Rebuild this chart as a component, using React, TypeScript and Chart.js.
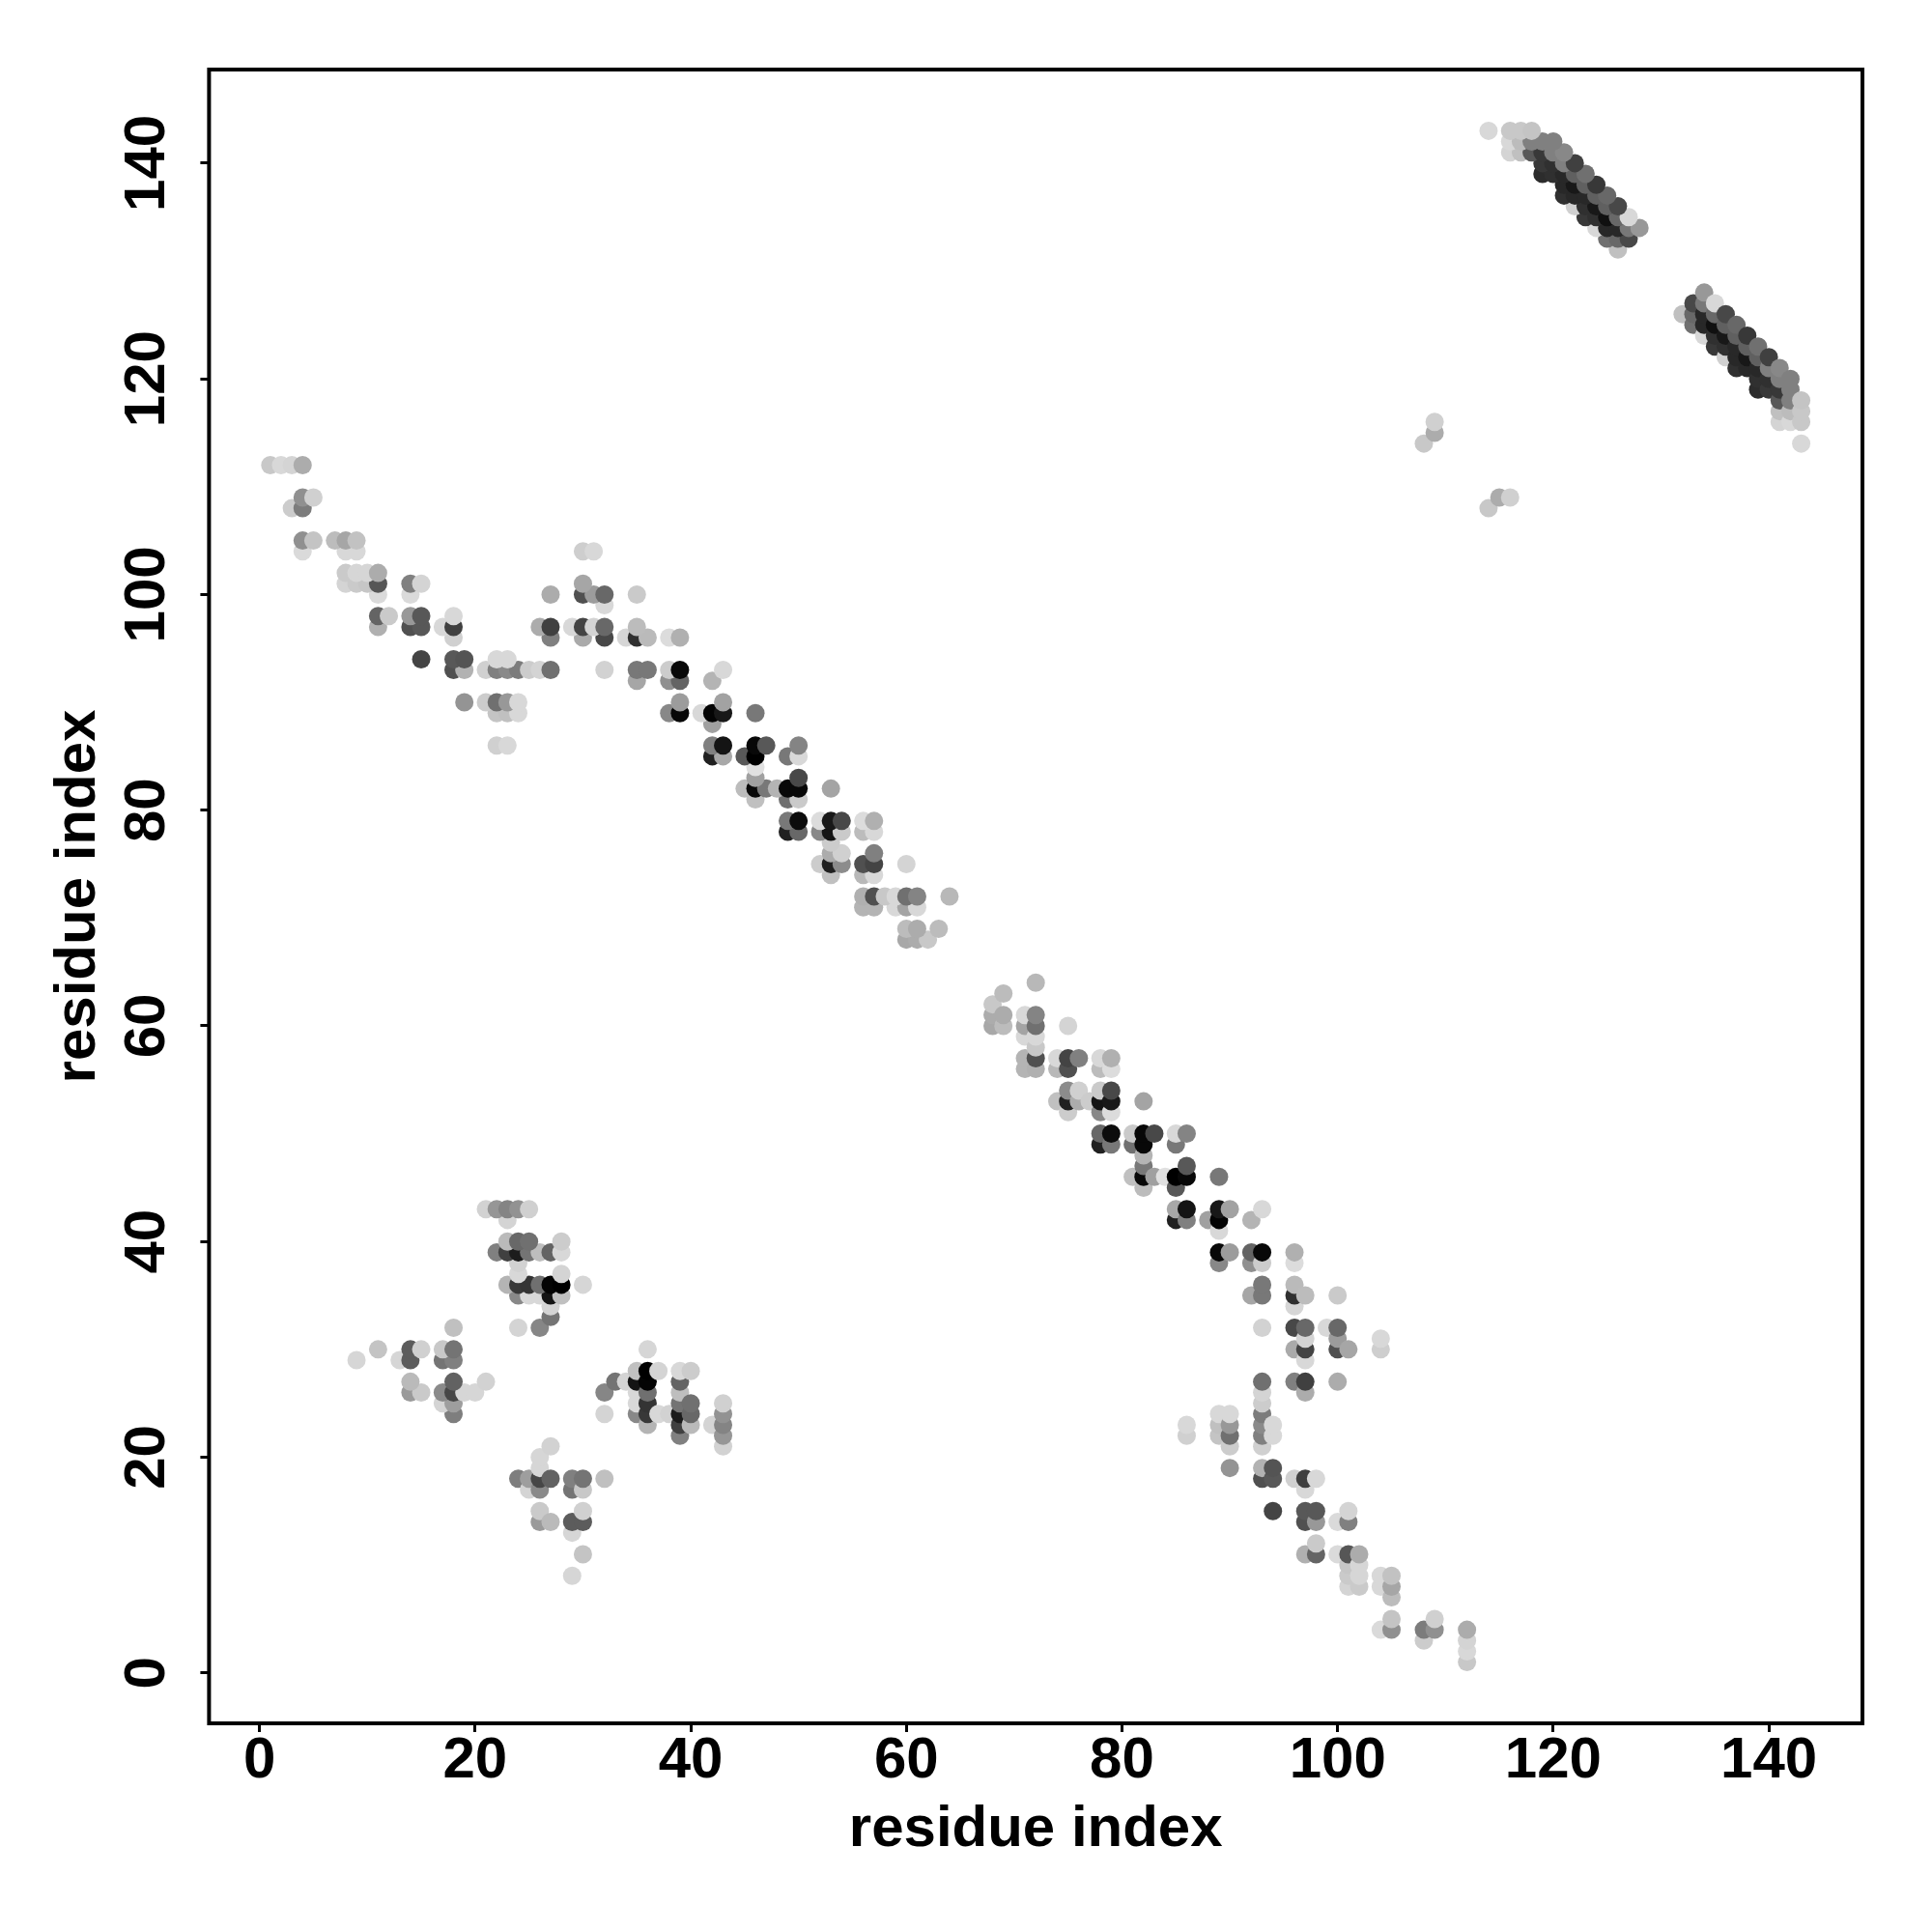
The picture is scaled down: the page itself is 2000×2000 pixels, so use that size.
import React, { useEffect, useRef } from "react";
import { Chart, registerables } from "chart.js";

Chart.register(...registerables);

const axisTicks = [0, 20, 40, 60, 80, 100, 120, 140];
const axisTitle = "residue index";
const axisMin = -4.68;
const axisMax = 148.68;

// Each contact is [lower residue, upper residue, grey level]; the map is symmetric.
const nTerminalContacts = [
  [1,112,0xc8],[2,112,0xd8],[3,112,0xd4],[4,112,0xac],
  [4,109,0x90],[5,109,0xd0],[3,108,0xcc],[4,108,0x7c],
  [4,105,0x90],[5,105,0xc4],[7,105,0xbc],[8,105,0xa6],[9,105,0xc2],
  [4,104,0xda],[8,104,0xd8],[9,104,0xd8],
  [8,102,0xca],[9,102,0xd6],[10,102,0xd6],[11,102,0xac],
  [8,101,0xd4],[9,101,0xca],[10,101,0xc6],[11,101,0x56],
  [11,100,0xda],[14,100,0xda],[14,101,0x80],[15,101,0xd4],
  [11,98,0x64],[12,98,0xca],[14,98,0x98],[15,98,0x58],
  [11,97,0xb0],[14,97,0x50],[15,97,0x58],[17,97,0xd8],[18,97,0x40],
  [18,98,0xd8],[18,96,0xd0],[15,94,0x44],[18,94,0x58],[19,94,0x54],
  [18,93,0x50],[19,93,0xb2],[19,90,0x94],
];

const loopContacts = [
  [21,93,0xd0],[21,90,0xcc],[22,94,0xd8],[22,93,0x80],[22,90,0x70],[22,89,0xc4],[22,86,0xd0],
  [23,94,0xd8],[23,93,0x8a],[23,90,0x98],[23,89,0xc0],[23,86,0xd8],
  [24,93,0x7c],[24,90,0xd8],[24,89,0xd8],[25,93,0xcc],[26,93,0xd4],
  [26,97,0xac],[27,97,0x40],[27,96,0x80],[27,100,0xac],[27,93,0x70],
  [29,97,0xd8],[30,97,0x44],[30,96,0xaa],[30,100,0x50],[30,101,0xa6],[30,104,0xce],
  [31,104,0xd8],[31,100,0x9c],[31,97,0xd4],
  [32,100,0x68],[32,99,0xd8],[32,97,0x68],[32,96,0x48],[32,93,0xd2],
  [34,96,0xd6],[35,100,0xca],[35,97,0xbc],[35,96,0x30],[35,93,0x78],[35,92,0xa6],
  [36,96,0xba],[36,93,0x78],
];

const middleContacts = [
  [38,96,0xdc],[39,96,0xb0],[38,93,0xcc],[39,93,0x08],[38,92,0x90],[39,92,0x64],
  [39,90,0x9c],[38,89,0x88],[39,89,0x08],[41,89,0xd8],[42,89,0x04],[43,89,0x18],[46,89,0x78],
  [42,92,0xb4],[43,93,0xd8],[43,90,0xa2],[42,88,0xa0],
  [42,86,0x80],[43,86,0x14],[46,86,0x08],[47,86,0x58],[50,86,0x84],
  [42,85,0x20],[43,85,0xa8],[45,85,0x58],[46,85,0x00],[49,85,0x78],[50,85,0xd8],
  [46,84,0xe0],[46,83,0xa0],[50,83,0x48],
  [45,82,0xbc],[46,82,0x08],[47,82,0x78],[48,82,0xb4],[49,82,0x08],[50,82,0x08],[53,82,0xa4],
  [46,81,0xc0],[49,81,0x70],[50,81,0xca],
  [49,79,0x78],[50,79,0x0c],[52,79,0xdc],[53,79,0x18],[54,79,0x48],[56,79,0xdc],[57,79,0xb0],
  [49,78,0x20],[50,78,0x68],[52,78,0x88],[53,78,0x14],[54,78,0xca],[56,78,0xbc],[57,78,0xd8],
  [53,77,0xcc],[53,76,0xac],[54,76,0xd0],[57,76,0x80],
  [52,75,0xcc],[53,75,0x20],[54,75,0x8c],[56,75,0x50],[57,75,0x44],[60,75,0xd4],
  [53,74,0xc0],[56,74,0xb8],[57,74,0xd8],
  [56,72,0xb0],[57,72,0x50],[58,72,0xc8],[59,72,0xd8],[60,72,0x70],[61,72,0x84],[64,72,0xb8],
  [56,71,0xb4],[57,71,0xb4],[59,71,0xd8],[60,71,0xa4],[61,71,0xd8],
  [60,69,0xbc],[61,69,0xac],[63,69,0xbc],[60,68,0xa8],[61,68,0xac],[62,68,0xc8],
];

const sheetBlockContacts = [
  [21,43,0xd2],[22,43,0x96],[23,43,0x84],[24,43,0x92],[25,43,0xd0],[23,42,0xd4],
  [23,40,0xba],[24,40,0x68],[25,40,0x70],[28,40,0xcc],
  [22,39,0x80],[23,39,0x40],[24,39,0x1c],[25,39,0x74],[26,39,0xbe],[27,39,0x64],[28,39,0xd8],
  [24,38,0xd2],[24,37,0xd8],[28,37,0xd4],
  [23,36,0xb4],[24,36,0x38],[25,36,0x34],[26,36,0x70],[27,36,0x04],[28,36,0x00],[30,36,0xd6],
  [24,35,0x88],[25,35,0xd8],[26,35,0xd8],[27,35,0x14],[28,35,0xc0],
  [27,34,0xd4],[27,33,0x74],[24,32,0xd4],[26,32,0x86],
  [9,29,0xd6],[11,30,0xc4],[13,29,0xd6],[14,30,0x5c],[14,29,0x5c],[15,30,0xd0],
  [14,27,0xba],[14,26,0x9a],[15,26,0xca],[17,30,0xc8],[18,30,0x74],[17,29,0x74],[18,29,0x80],
  [18,27,0x62],[21,27,0xd2],[17,26,0x8a],[18,26,0x46],[19,26,0xd6],[20,26,0xd6],
  [17,25,0xd4],[18,25,0x9e],[18,24,0x7e],[18,32,0xc0],
];

const pairedBlockContacts = [
  [108,114,0xc8],[109,115,0xac],[109,116,0xd0],
];

const strandContacts = [
  [114,143,0xd8],[116,143,0xc8],[117,143,0xc8],[118,143,0xc4],
  [116,142,0xd8],[117,142,0xbc],[118,142,0x80],[116,141,0xd4],[117,141,0xc0],[118,141,0x58],
  [119,142,0x80],[119,141,0x38],[119,140,0x38],[119,139,0x2c],
  [120,142,0x80],[120,141,0x80],[120,140,0x30],[120,139,0x30],
  [121,141,0x88],[121,140,0x80],[121,139,0x28],[121,138,0x28],[121,137,0x30],
  [122,140,0x40],[122,139,0x60],[122,138,0x18],[122,137,0x28],[122,136,0xd0],
  [123,139,0x70],[123,138,0x60],[123,137,0x28],[123,136,0x30],[123,135,0x38],
  [124,138,0x38],[124,137,0x60],[124,136,0x18],[124,135,0x30],[124,134,0xd8],
  [125,137,0x68],[125,136,0x60],[125,135,0x10],[125,134,0x28],[125,133,0x70],
  [126,136,0x48],[126,135,0x68],[126,134,0x28],[126,133,0x68],[126,132,0xc0],
  [127,135,0xd8],[127,134,0x78],[127,133,0x48],[128,134,0x98],
];

const contactGroups = [
  nTerminalContacts, loopContacts, middleContacts,
  sheetBlockContacts, pairedBlockContacts, strandContacts,
];

// Drawn by upper residue, then lower residue, so the overlaps stack as in the picture.
const points = contactGroups
  .flat()
  .sort((p, q) => p[1] - q[1] || p[0] - q[0])
  .flatMap(([a, b, g]) => [{ x: a, y: b, g }, { x: b, y: a, g }]);

const FONT = "'Liberation Sans', Arial, sans-serif";

const frame = {
  id: "frame",
  afterDatasetsDraw(chart: any) {
    const { left, right, top, bottom } = chart.chartArea;
    const ctx = chart.ctx;
    ctx.save();
    ctx.strokeStyle = "#000";
    ctx.lineWidth = 4;
    ctx.strokeRect(left, top, right - left, bottom - top);
    ctx.restore();
  },
};

export default function App() {
  const ref = useRef<HTMLCanvasElement>(null);
  useEffect(() => {
    document.body.style.margin = "0";
    const setTicks = (s: any) => {
      s.ticks = axisTicks.map((value) => ({ value }));
    };
    const common = {
      type: "linear",
      min: axisMin,
      max: axisMax,
      afterBuildTicks: setTicks,
      grid: {
        drawOnChartArea: false,
        drawTicks: true,
        tickLength: 9,
        tickWidth: 3,
        tickColor: "#000",
      },
      border: { display: false },
    };
    const chart = new Chart(ref.current as HTMLCanvasElement, {
      type: "scatter",
      data: {
        datasets: [
          {
            data: points.map((p) => ({ x: p.x, y: p.y })),
            pointRadius: 9.5,
            pointHoverRadius: 9.5,
            pointBorderWidth: 0,
            pointBackgroundColor: points.map((p) => `rgb(${p.g},${p.g},${p.g})`),
          },
        ],
      },
      options: {
        animation: false,
        responsive: false,
        devicePixelRatio: 1,
        layout: { padding: { top: 72, right: 72, left: 0, bottom: 0 } },
        plugins: { legend: { display: false }, tooltip: { enabled: false } },
        scales: {
          x: {
            ...common,
            position: "bottom",
            afterFit: (s: any) => {
              s.height = 216;
            },
            ticks: {
              autoSkip: false,
              maxRotation: 0,
              minRotation: 0,
              padding: -6,
              color: "#000",
              font: { family: FONT, weight: "bold", size: 60 },
            },
            title: {
              display: true,
              text: axisTitle,
              color: "#000",
              padding: { top: 0, bottom: 70 },
              font: { family: FONT, weight: "bold", size: 60 },
            },
          },
          y: {
            ...common,
            position: "left",
            afterFit: (s: any) => {
              s.width = 216.4;
            },
            ticks: {
              autoSkip: false,
              minRotation: 90,
              maxRotation: 90,
              crossAlign: "center",
              padding: 4,
              color: "#000",
              font: { family: FONT, weight: "bold", size: 60 },
            },
            title: {
              display: true,
              text: axisTitle,
              color: "#000",
              padding: { top: 45, bottom: 0 },
              font: { family: FONT, weight: "bold", size: 60 },
            },
          },
        },
      } as any,
      plugins: [frame],
    });
    return () => chart.destroy();
  }, []);
  return (
    <canvas
      ref={ref}
      width={2000}
      height={2000}
      style={{ display: "block", position: "absolute", left: 0, top: 0, width: 2000, height: 2000, background: "#fff" }}
    />
  );
}
